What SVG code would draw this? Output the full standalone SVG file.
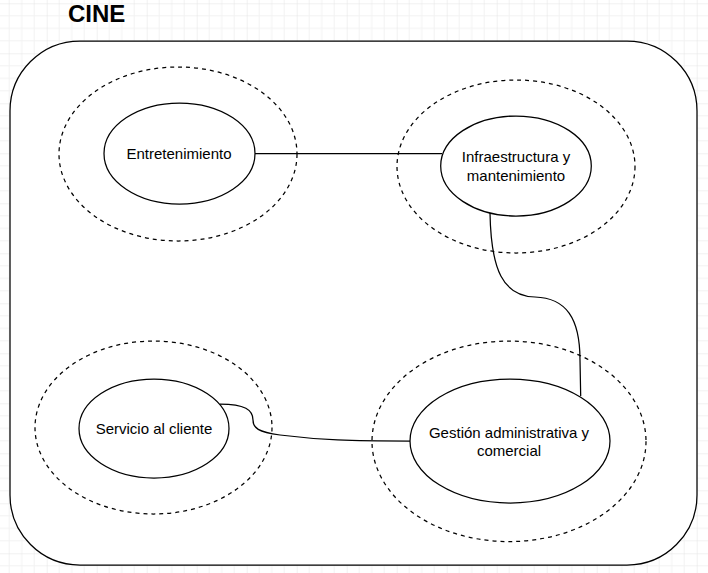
<svg xmlns="http://www.w3.org/2000/svg" width="708" height="573" viewBox="0 0 708 573">
  <style>
    .lbl { font-family: "Liberation Sans", Arial, sans-serif; font-size: 15px; fill: #000; text-anchor: middle; }
    .title { font-family: "Liberation Sans", Arial, sans-serif; font-size: 24px; font-weight: bold; fill: #000; }
    .outer { fill: none; stroke: #000; stroke-width: 1.25; stroke-dasharray: 4 4; }
    .inner { fill: #fff; stroke: #000; stroke-width: 1.25; }
    .edge { fill: none; stroke: #000; stroke-width: 1.25; }
  </style>
  <defs>
    <pattern id="grid" patternUnits="userSpaceOnUse" x="46.7" y="3.3" width="50" height="50">
      <path d="M12.5 0V50M25 0V50M37.5 0V50M0 12.5H50M0 25H50M0 37.5H50" stroke="#f2f2f2" stroke-width="1" fill="none"/>
      <path d="M0 0V50M0 0H50" stroke="#e3e3e3" stroke-width="1" fill="none"/>
    </pattern>
  </defs>
  <rect x="0" y="0" width="708" height="573" fill="#fff"/>
  <rect x="0" y="0" width="708" height="573" fill="url(#grid)"/>

  <g id="cine">
    <rect x="10" y="41" width="687" height="524" rx="70" ry="70" fill="#fff" stroke="#000" stroke-width="1.25"/>
    <text class="title" x="68" y="21.5">CINE</text>
  </g>

  <g id="zone-entretenimiento">
    <ellipse class="outer" cx="178" cy="154" rx="119" ry="87"/>
  </g>
  <g id="zone-infraestructura">
    <ellipse class="outer" cx="516" cy="166.5" rx="119" ry="86.5"/>
  </g>
  <g id="zone-servicio">
    <ellipse class="outer" cx="153.5" cy="427.5" rx="118.5" ry="86.5"/>
  </g>
  <g id="zone-gestion">
    <ellipse class="outer" cx="509" cy="441.3" rx="137" ry="100.3"/>
  </g>

  <g id="connectors">
    <path class="edge" d="M255 153.5H442"/>
    <path class="edge" d="M490 213C491 270 503 296 535 297C566 298 580 318 580 360L580.7 396"/>
    <path class="edge" d="M220 404C245 404 253 410 253 420C253 428 258 432 280 435C320 440 350 441 410 441"/>
  </g>

  <g id="entretenimiento">
    <ellipse class="inner" cx="179.5" cy="153.5" rx="75.5" ry="50.5"/>
    <text class="lbl" x="179" y="158.5">Entretenimiento</text>
  </g>
  <g id="infraestructura">
    <ellipse class="inner" cx="516" cy="166" rx="75.3" ry="50"/>
    <text class="lbl" x="516" y="162">Infraestructura y</text>
    <text class="lbl" x="516" y="181">mantenimiento</text>
  </g>
  <g id="servicio">
    <ellipse class="inner" cx="154" cy="428.5" rx="75" ry="49.5"/>
    <text class="lbl" x="154" y="433.5">Servicio al cliente</text>
  </g>
  <g id="gestion">
    <ellipse class="inner" cx="510" cy="441" rx="100" ry="62"/>
    <text class="lbl" x="509" y="437.5">Gestión administrativa y</text>
    <text class="lbl" x="509" y="456">comercial</text>
  </g>
</svg>
